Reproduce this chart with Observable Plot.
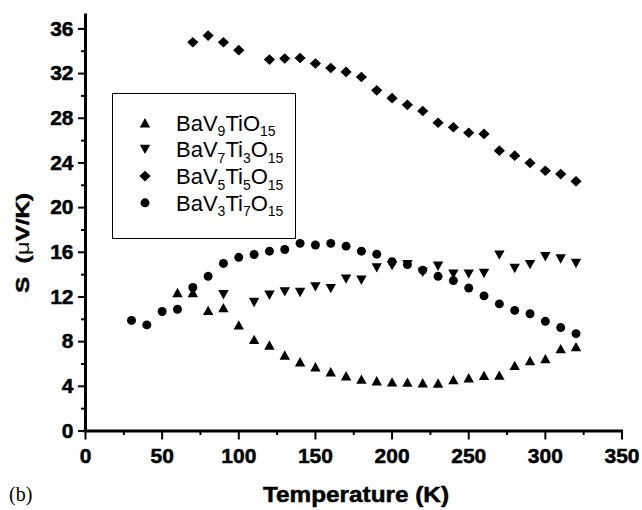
<!DOCTYPE html>
<html>
<head>
<meta charset="utf-8">
<script src="https://cdn.jsdelivr.net/npm/d3@7"></script>
<script src="https://cdn.jsdelivr.net/npm/@observablehq/plot@0.6"></script>
<style>
  html, body { margin: 0; padding: 0; background: #fff; }
  #chart { width: 642px; height: 510px; }
</style>
</head>
<body>
<div id="chart"></div>
<script>
// Thermopower S (µV/K) versus temperature for four BaV(10-x)TixO15 samples

const seriesNames = ["BaV9TiO15", "BaV7Ti3O15", "BaV5Ti5O15", "BaV3Ti7O15"];

// BaV9TiO15 (up triangles)
const tempV9 = [60, 70, 80, 90, 100, 110, 120, 130, 140, 150, 160, 170, 180, 190, 200,
                210, 220, 230, 240, 250, 260, 270, 280, 290, 300, 310, 320];
const seebeckV9 = [12.4, 12.4, 10.8, 11.05, 9.5, 8.2, 7.7, 6.8, 6.2, 5.75, 5.3, 4.95, 4.65, 4.5, 4.4,
                   4.37, 4.32, 4.3, 4.6, 4.77, 4.98, 5.0, 5.88, 6.3, 6.48, 7.38, 7.55];

// BaV7Ti3O15 (down triangles)
const tempV7 = [90, 110, 120, 130, 140, 150, 160, 170, 180, 190, 200, 210,
                220, 230, 240, 250, 260, 270, 280, 290, 300, 310, 320];
const seebeckV7 = [12.2, 11.5, 12.15, 12.45, 12.4, 12.9, 12.75, 13.6, 13.5, 14.6, 14.8, 14.9,
                   14.2, 14.75, 14.05, 14.05, 14.1, 15.75, 14.55, 14.9, 15.6, 15.4, 15.0];

// BaV5Ti5O15 (diamonds)
const tempV5 = [70, 80, 90, 100, 120, 130, 140, 150, 160, 170, 180, 190, 200,
                210, 220, 230, 240, 250, 260, 270, 280, 290, 300, 310, 320];
const seebeckV5 = [34.8, 35.4, 34.8, 34.1, 33.25, 33.35, 33.4, 32.9, 32.5, 32.15, 31.7, 30.5, 29.8,
                   29.2, 28.65, 27.6, 27.2, 26.7, 26.6, 25.1, 24.65, 24.0, 23.3, 23.0, 22.35];

// BaV3Ti7O15 (circles)
const tempV3 = [30, 40, 50, 60, 70, 80, 90, 100, 110, 120, 130, 140, 150, 160, 170,
                180, 190, 200, 210, 220, 230, 240, 250, 260, 270, 280, 290, 300, 310, 320];
const seebeckV3 = [9.9, 9.5, 10.7, 10.9, 12.85, 13.85, 15.0, 15.55, 15.8, 16.1, 16.25, 16.8, 16.65, 16.8, 16.55,
                   16.1, 15.83, 15.15, 14.9, 14.4, 13.85, 13.47, 12.8, 12.1, 11.38, 10.8, 10.5, 9.82, 9.26, 8.72];

// Axis ticks
const xTicks = [0, 50, 100, 150, 200, 250, 300, 350];
const xMinorTicks = [25, 75, 125, 175, 225, 275, 325];
const yTicks = [0, 4, 8, 12, 16, 20, 24, 28, 32, 36];
const yMinorTicks = [2, 6, 10, 14, 18, 22, 26, 30, 34];

// Filled symbols drawn at the size Plot hands over (size = π r²)
const symbolTriangle = dir => ({
  draw(ctx, size) {
    const r = Math.sqrt(size / Math.PI);
    const w = r, h = 0.9 * r;
    ctx.moveTo(0, -dir * h);
    ctx.lineTo(w, dir * h);
    ctx.lineTo(-w, dir * h);
    ctx.closePath();
  }
});
const symbolDiamond = {
  draw(ctx, size) {
    const r = Math.sqrt(size / Math.PI);
    const hx = 1.08 * r, hy = 1.02 * r;
    ctx.moveTo(0, -hy);
    ctx.lineTo(hx, 0);
    ctx.lineTo(0, hy);
    ctx.lineTo(-hx, 0);
    ctx.closePath();
  }
};
const symbolDisc = {
  draw(ctx, size) {
    const r = 0.86 * Math.sqrt(size / Math.PI);
    ctx.moveTo(r, 0);
    ctx.arc(0, 0, r, 0, 2 * Math.PI);
    ctx.closePath();
  }
};
const symbols = [symbolTriangle(1), symbolTriangle(-1), symbolDiamond, symbolDisc];

const toRows = (temps, values) => temps.map((T, i) => ({T, S: values[i]}));
const seriesRows = [
  toRows(tempV9, seebeckV9),
  toRows(tempV7, seebeckV7),
  toRows(tempV5, seebeckV5),
  toRows(tempV3, seebeckV3)
];

const dotR = 5.2;
const sans = "'Liberation Sans', Arial, Helvetica, sans-serif";
const boldText = {fontWeight: "bold", textStroke: "black", textStrokeWidth: 0.5, textStrokeOpacity: 1};

const plot = Plot.plot({
  width: 642,
  height: 510,
  marginLeft: 85,
  marginRight: 20.5,
  marginTop: 15,
  marginBottom: 79.5,
  style: {fontFamily: sans, color: "black", background: "white", overflow: "visible"},
  x: {domain: [0, 350]},
  y: {domain: [0, 37.2]},
  marks: [
    Plot.axisX(xTicks, {tickSize: 9, tickPadding: 8, strokeWidth: 2, fontSize: 21, ...boldText, label: null}),
    Plot.axisX(xMinorTicks, {tickSize: 4.5, strokeWidth: 2, fill: "none", label: null}),
    Plot.axisY(yTicks, {tickSize: 7, tickPadding: 5, strokeWidth: 2, fontSize: 21, ...boldText, label: null}),
    Plot.axisY(yMinorTicks, {tickSize: 4, strokeWidth: 2, fill: "none", label: null}),
    Plot.ruleX([0], {strokeWidth: 3, strokeLinecap: "square"}),
    Plot.ruleY([0], {strokeWidth: 3, strokeLinecap: "square"}),
    ...seriesRows.map((rows, i) =>
      Plot.dot(rows, {x: "T", y: "S", r: dotR, symbol: symbols[i], fill: "black", stroke: "none"})
    )
  ]
});

document.getElementById("chart").appendChild(plot);
const svg = d3.select(plot);

// Axis titles and panel tag
svg.append("text")
  .attr("x", 356).attr("y", 502)
  .attr("text-anchor", "middle")
  .attr("font-family", sans).attr("font-weight", "bold").attr("font-size", 22)
  .attr("textLength", 186).attr("lengthAdjust", "spacingAndGlyphs")
  .attr("fill", "black").attr("stroke", "black").attr("stroke-width", 0.5)
  .text("Temperature (K)");

const yTitle = svg.append("text")
  .attr("transform", "translate(28.5,243) rotate(-90)")
  .attr("text-anchor", "middle")
  .attr("font-family", sans).attr("font-weight", "bold").attr("font-size", 19)
  .attr("textLength", 100).attr("lengthAdjust", "spacingAndGlyphs")
  .attr("fill", "black");
yTitle.append("tspan").attr("stroke", "black").attr("stroke-width", 0.5).text("S  (");
yTitle.append("tspan").attr("font-weight", "normal").text("\u03BC");
yTitle.append("tspan").attr("stroke", "black").attr("stroke-width", 0.5).text("V/K)");

svg.append("text")
  .attr("x", 9).attr("y", 501)
  .attr("text-anchor", "start")
  .attr("font-family", "'Liberation Serif', 'Times New Roman', serif").attr("font-size", 20)
  .attr("fill", "black")
  .text("(b)");

// Legend
const legend = svg.append("g").attr("text-anchor", "start");
legend.append("rect")
  .attr("x", 112.5).attr("y", 93.5).attr("width", 183).attr("height", 145)
  .attr("fill", "white").attr("stroke", "black").attr("stroke-width", 1);

seriesNames.forEach((name, i) => {
  const baseline = 130.7 + i * 26.7;
  legend.append("path")
    .attr("transform", `translate(145,${baseline - 8})`)
    .attr("d", d3.symbol(symbols[i], Math.PI * dotR * dotR)())
    .attr("fill", "black");
  const label = legend.append("text")
    .attr("x", 176).attr("y", baseline)
    .attr("text-anchor", "start")
    .attr("font-family", sans).attr("font-size", 22)
    .attr("fill", "black");
  const parts = name.match(/[A-Za-z]+|\d+/g);
  let shifted = false;
  parts.forEach(part => {
    const isSub = /^\d+$/.test(part);
    const t = label.append("tspan").text(part);
    if (isSub && !shifted) { t.attr("dy", 5.5).attr("font-size", 14); shifted = true; }
    else if (isSub) { t.attr("font-size", 14); }
    else if (shifted) { t.attr("dy", -5.5); shifted = false; }
  });
});
</script>
</body>
</html>
